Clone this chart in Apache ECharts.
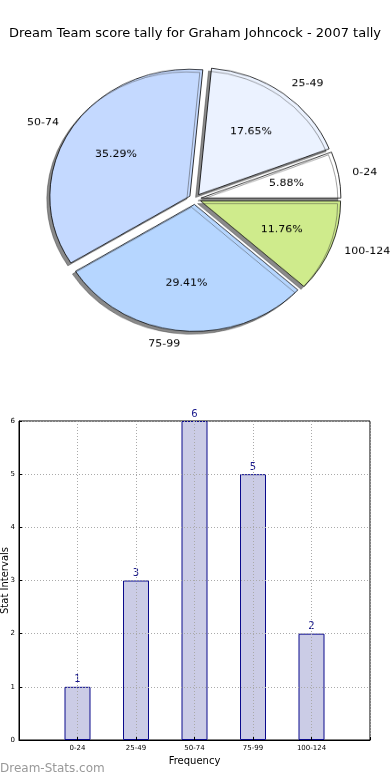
<!DOCTYPE html>
<html><head><meta charset="utf-8">
<script src="https://cdn.jsdelivr.net/npm/echarts@6/dist/echarts.min.js"></script>
<style>
html,body{margin:0;padding:0;background:#fff;}
#bar{position:absolute;left:0;top:0;width:390px;height:780px;}
#pie{position:absolute;left:0;top:0;width:390px;height:440px;transform:scaleY(0.907);transform-origin:0 0;}
</style></head><body>
<div id="bar"></div>
<div id="pie"></div>
<script>
const titleText = 'Dream Team score tally for Graham Johncock - 2007 tally';
const categories = ['0-24', '25-49', '50-74', '75-99', '100-124'];
const counts = [1, 3, 6, 5, 2];
const sliceColors = ['#ffffff', '#ebf2ff', '#c4d9ff', '#b6d6ff', '#cfeb8c'];
const yTicks = [0, 1, 2, 3, 4, 5, 6];
const FONT = 'DejaVu Sans';
const total = counts.reduce((a, b) => a + b, 0);

const R = 140, CX = 195, CY = 219.4, OFF = 6;

const pieMain = categories.map((c, i) => ({
  name: c, value: counts[i], selected: true,
  itemStyle: { color: sliceColors[i] }
}));
const pieOverlay = categories.map((c, i) => ({
  name: c, value: counts[i], selected: true
}));

const pie = echarts.init(document.getElementById('pie'));
pie.setOption({
  animation: false,
  series: [
    {
      type: 'pie', center: [CX, CY], radius: [0, R],
      startAngle: 0, clockwise: false,
      selectedMode: 'multiple', selectedOffset: OFF,
      avoidLabelOverlap: false,
      itemStyle: { borderColor: '#000', borderWidth: 0.8,
        shadowColor: 'rgba(60,60,60,0.6)', shadowBlur: 0.5, shadowOffsetX: -3, shadowOffsetY: 3 },
      emphasis: { disabled: true },
      label: { position: 'outside', fontFamily: FONT, fontSize: 11, color: '#000', distanceToLabelLine: 0 },
      labelLine: { show: false, length: 14, length2: 0 },
      data: pieMain
    },
    {
      type: 'pie', center: [CX, CY], radius: [R * 0.2, R],
      startAngle: 0, clockwise: false, silent: true,
      selectedMode: 'multiple', selectedOffset: OFF,
      avoidLabelOverlap: false,
      itemStyle: { color: 'rgba(0,0,0,0)', borderWidth: 0 },
      emphasis: { disabled: true },
      label: { position: 'inside', fontFamily: FONT, fontSize: 11, color: '#000',
        formatter: p => (p.value / total * 100).toFixed(2) + '%' },
      labelLine: { show: false },
      data: pieOverlay
    }
  ]
});

const bar = echarts.init(document.getElementById('bar'));
bar.setOption({
  animation: false,
  title: { text: titleText, left: 'center', top: 22,
    textStyle: { fontFamily: FONT, fontSize: 13, fontWeight: 'normal', color: '#000' } },
  graphic: [{ type: 'text', left: 0, top: 763,
    style: { text: 'Dream-Stats.com', fontFamily: FONT, fontSize: 12, fontWeight: 'normal', fill: '#999' } }],
  grid: { left: 19, right: 20, top: 421, bottom: 40, containLabel: false, outerBoundsMode: 'none',
    show: true, borderColor: '#000', borderWidth: 1 },
  xAxis: {
    type: 'value', min: -1, max: 5, interval: 1, z: 3,
    name: 'Frequency', nameLocation: 'middle', nameGap: 16,
    nameTextStyle: { fontFamily: FONT, fontSize: 10, color: '#000' },
    axisLine: { show: true, onZero: false, lineStyle: { color: '#000' } },
    axisTick: { show: true, inside: true, length: 3, lineStyle: { color: '#000' } },
    axisLabel: { fontFamily: FONT, fontSize: 7, color: '#000', margin: 5,
      formatter: v => (v >= 0 && v < categories.length) ? categories[v] : '' },
    splitLine: { show: true, lineStyle: { type: [1, 2], color: '#aaa' } }
  },
  yAxis: {
    type: 'value', min: yTicks[0], max: yTicks[yTicks.length - 1], interval: 1, z: 3,
    name: 'Stat Intervals', nameLocation: 'middle', nameGap: 9, nameRotate: 90, nameMoveOverlap: false,
    nameTextStyle: { fontFamily: FONT, fontSize: 10, color: '#000' },
    axisLine: { show: true, onZero: false, lineStyle: { color: '#000' } },
    axisTick: { show: true, inside: true, length: 3, lineStyle: { color: '#000' } },
    axisLabel: { fontFamily: FONT, fontSize: 7, color: '#000', margin: 4 },
    splitLine: { show: true, lineStyle: { type: [1, 2], color: '#aaa' } }
  },
  series: [{
    type: 'bar', barWidth: 26, z: 1,
    itemStyle: { color: '#cbcce6', borderColor: '#0a0a8c', borderWidth: 1 },
    label: { show: true, position: 'top', distance: 2, fontFamily: FONT, fontSize: 10, color: '#1a1a8c' },
    data: counts.map((v, i) => [i, v])
  }]
});
</script>
</body></html>
